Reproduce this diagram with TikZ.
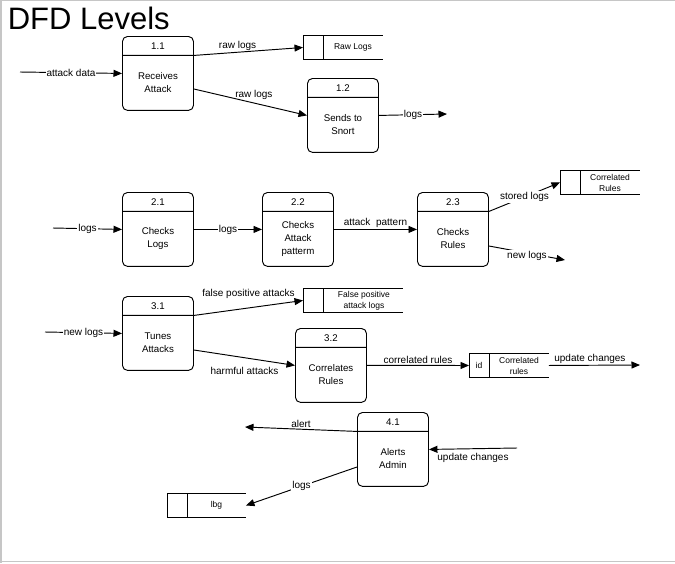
\documentclass[tikz,border=0pt]{standalone}
\usepackage{fontspec}
\setmainfont{Liberation Sans}
\usetikzlibrary{arrows.meta,shapes.multipart}

\newcommand{\proctext}[2]{\parbox[c][18pt][c]{71pt}{\centering #1}\nodepart{two}\parbox[c][54pt][c]{71pt}{\centering #2}}

\tikzset{
  process/.style={rectangle split, rectangle split parts=2, draw, rounded corners=5pt,
    inner sep=0pt, anchor=north west, font=\fontsize{9.7}{13}\selectfont},
  store/.style={minimum width=#1, minimum height=24pt, inner sep=0pt, anchor=north west,
    append after command={(\tikzlastnode.north east) edge (\tikzlastnode.north west)
      (\tikzlastnode.north west) edge (\tikzlastnode.south west)
      (\tikzlastnode.south west) edge (\tikzlastnode.south east)
      ([xshift=20pt]\tikzlastnode.north west) edge ([xshift=20pt]\tikzlastnode.south west)}},
  store/.default=79pt,
  stxt/.style={font=\fontsize{8.5}{11}\selectfont, align=center, inner sep=0pt},
  lbl/.style={font=\fontsize{10}{12}\selectfont, inner sep=1pt},
  onl/.style={lbl, fill=white}
}

\begin{document}
\begin{tikzpicture}[x=1pt, y=-1pt, line width=0.95pt,
    >={Triangle[length=8.5pt,width=7pt]}]
  \useasboundingbox (0,0) rectangle (675,563);
  \draw[gray!45, line width=1.2pt] (0,0.6) -- (675,0.6) (1,0) -- (1,563) (0,561.6) -- (675,561.6);

  \node[anchor=base west, font=\fontsize{31}{31}\selectfont] (title) at (4,29) {DFD Levels};

  % processes
  \node[process] (p11) at (122,36) {\proctext{1.1}{Receives\\Attack}};
  \node[process] (p12) at (307,78) {\proctext{1.2}{Sends to\\Snort}};
  \node[process] (p21) at (122,192) {\proctext{2.1}{Checks\\Logs}};
  \node[process] (p22) at (262,192) {\proctext{2.2}{Checks\\Attack\\patterm}};
  \node[process] (p23) at (417,192) {\proctext{2.3}{Checks\\Rules}};
  \node[process] (p31) at (122,296) {\proctext{3.1}{Tunes\\Attacks}};
  \node[process] (p32) at (295,328) {\proctext{3.2}{Correlates\\Rules}};
  \node[process] (p41) at (357,412) {\proctext{4.1}{Alerts\\Admin}};

  % data stores
  \node[store] (sraw) at (303,35) {};
  \node[stxt] (traw) at ([xshift=10pt]sraw.center) {Raw Logs};
  \node[store] (scor) at (560,170) {};
  \node[stxt] (tcor) at ([xshift=10pt]scor.center) {Correlated\\Rules};
  \node[store=99pt] (sfp) at (303,288) {};
  \node[stxt] (tfp) at ([xshift=11pt]sfp.center) {False positive\\attack logs};
  \node[store] (sid) at (469,353) {};
  \node[stxt] (tid) at ([xshift=10pt]sid.center) {Correlated\\rules};
  \node[stxt] (tidkey) at ([xshift=10pt]sid.west) {id};
  \node[store=78pt] (slbg) at (167,493) {};
  \node[stxt] (tlbg) at ([xshift=10pt]slbg.center) {lbg};

  % free ends
  \coordinate (ad) at (20,72);
  \coordinate (lo) at (447,114);
  \coordinate (li) at (53,228);
  \coordinate (nl) at (565,260);
  \coordinate (nli) at (45,332);
  \coordinate (uc) at (640,365);
  \coordinate (al) at (245,427);
  \coordinate (uci) at (517,448);

  \begin{scope}[->]
    \draw (ad) to node[onl] {attack data} (p11.west);
    \draw (p11.text split east) to node[lbl, above, pos=0.4] {raw logs} (sraw.west);
    \draw ([yshift=-53pt]p11.north east) to node[lbl, above=2pt, pos=0.53] {raw logs} (p12.west);
    \draw (p12.east) to node[onl] {logs} (lo);
    \draw (li) to node[onl] {logs} (p21.west);
    \draw (p21.east) to node[onl] {logs} (p22.west);
    \draw (p22.east) to node[lbl, above] {attack\ \ pattern} (p23.west);
    \draw (p23.text split east) to node[onl] {stored logs} (scor.west);
    \draw ([yshift=-54pt]p23.north east) to node[onl, yshift=-3pt] {new logs} (nl);
    \draw (nli) to node[onl] {new logs} (p31.west);
    \draw (p31.text split east) to node[lbl, above=8pt] {false positive attacks} (sfp.west);
    \draw ([yshift=-54pt]p31.north east) to node[lbl, below=8pt] {harmful attacks} (p32.west);
    \draw (p32.east) to node[lbl, above] {correlated rules} (sid.west);
    \draw (sid.east) to node[lbl, above, pos=0.45] {update changes} (uc);
    \draw (p41.text split west) to node[lbl, above] {alert} (al);
    \draw (uci) to node[lbl, below=3pt] {update changes} (p41.east);
    \draw ([yshift=-55pt]p41.north west) to node[onl] {logs} (slbg.east);
  \end{scope}
\end{tikzpicture}
\end{document}
